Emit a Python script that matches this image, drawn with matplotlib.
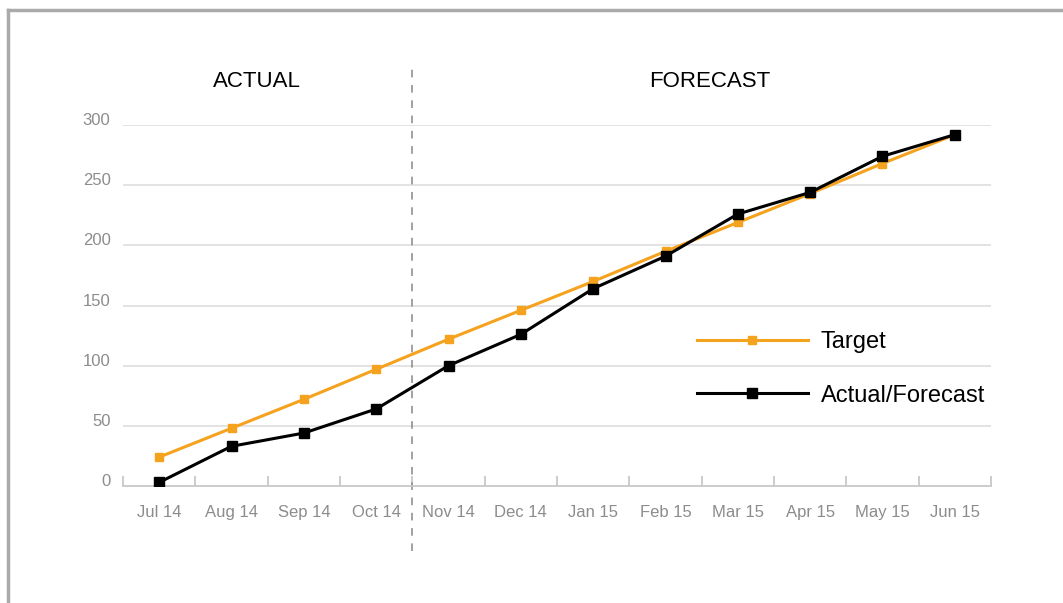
import matplotlib.pyplot as plt
import matplotlib.transforms as mtransforms
from matplotlib.lines import Line2D

plt.rcParams['font.family'] = ['Liberation Sans', 'DejaVu Sans']

# data
months = ['Jul 14', 'Aug 14', 'Sep 14', 'Oct 14', 'Nov 14', 'Dec 14',
          'Jan 15', 'Feb 15', 'Mar 15', 'Apr 15', 'May 15', 'Jun 15']
target = [24, 48, 72, 97, 122, 146, 170, 195, 219, 243, 268, 292]
actual_forecast = [3, 33, 44, 64, 100, 126, 164, 191, 226, 244, 274, 292]
y_ticks = [0, 50, 100, 150, 200, 250, 300]
n_actual = 4  # first four months are actuals

orange = '#f5a21f'
grey_text = '#8c8c8c'

fig = plt.figure(figsize=(10.63, 6.03), dpi=100)
ax = fig.add_axes([123 / 1063, 117 / 603, 868 / 1063, 361 / 603])

x = list(range(len(months)))
ax.plot(x, target, color=orange, lw=2.2, marker='s', ms=6, mec=orange,
        label='Target', zorder=3)
ax.plot(x, actual_forecast, color='black', lw=2.2, marker='s', ms=7.5,
        label='Actual/Forecast', zorder=4)

ax.set_xlim(-0.5, len(months) - 0.5)
ax.set_ylim(0, 300)

# grid lines (not at zero, the baseline takes that place)
for v in y_ticks[1:]:
    ax.axhline(v, color='#dedede', lw=1.2, zorder=1)

for s in ['top', 'right', 'left']:
    ax.spines[s].set_visible(False)
ax.spines['bottom'].set_color('#c8c8c8')
ax.spines['bottom'].set_linewidth(1.3)

ax.set_xticks(x)
ax.set_xticklabels(months)
ax.set_xticks([i - 0.5 for i in range(len(months) + 1)], minor=True)
ax.tick_params(axis='x', which='major', length=0, pad=14, labelsize=12,
               labelcolor=grey_text)
ax.tick_params(axis='x', which='minor', direction='in', length=7,
               width=1.3, color='#c8c8c8')

ax.set_yticks(y_ticks)
ax.tick_params(axis='y', length=0, pad=9, labelsize=12, labelcolor=grey_text)
offset = mtransforms.ScaledTranslation(0, 6 / 100, fig.dpi_scale_trans)
for lab in ax.get_yticklabels():
    lab.set_transform(lab.get_transform() + offset)

# actual / forecast divider
ax.axvline(n_actual - 0.5, ymin=-0.18, ymax=1.155, color='#888888', lw=1.1,
           ls=(0, (5, 5)), clip_on=False, zorder=2)
ax.text(1.345, 1.12, 'ACTUAL', transform=ax.get_xaxis_transform(),
        ha='center', va='center', fontsize=16, color='black')
ax.text(7.615, 1.12, 'FORECAST', transform=ax.get_xaxis_transform(),
        ha='center', va='center', fontsize=16, color='black')

leg = ax.legend(loc='center left', bbox_to_anchor=(574 / 868, 0.324),
                frameon=False, fontsize=17, handlelength=4.7,
                handletextpad=0.55, labelspacing=1.32, numpoints=1,
                borderaxespad=0, borderpad=0)

# grey frame along top and left
fig.add_artist(Line2D([8 / 1063, 8 / 1063], [0, 1 - 10 / 603],
                      transform=fig.transFigure, color='#aaaaaa', lw=2.5))
fig.add_artist(Line2D([8 / 1063, 1], [1 - 10 / 603, 1 - 10 / 603],
                      transform=fig.transFigure, color='#aaaaaa', lw=2.5))

fig.savefig('out.png', dpi=100)
